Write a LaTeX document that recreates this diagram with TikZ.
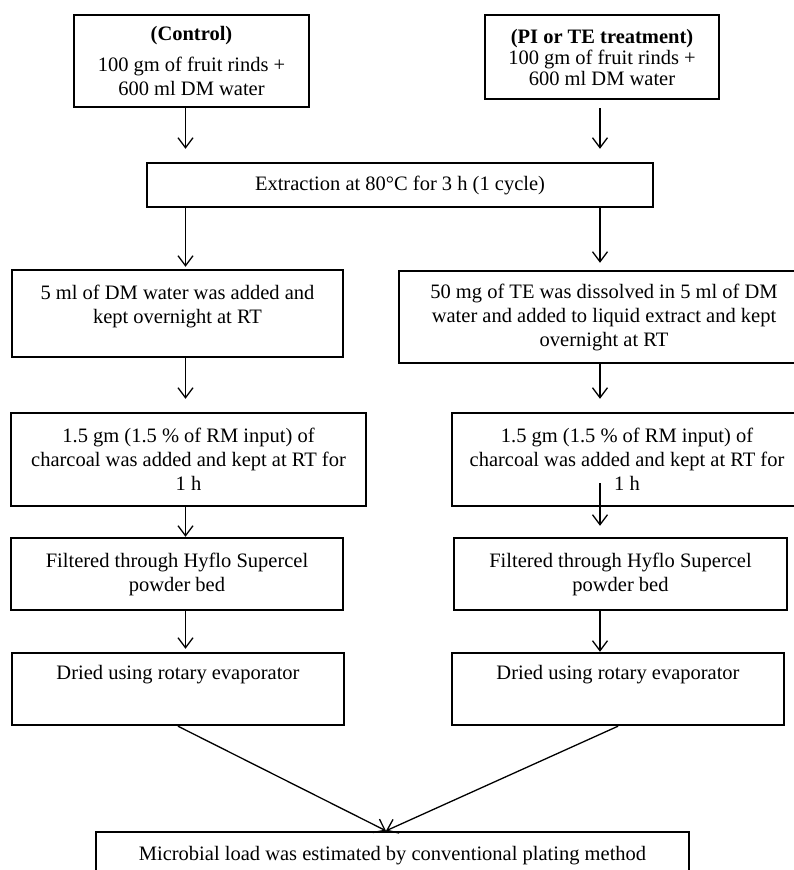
\documentclass[tikz,border=0pt]{standalone}
\usepackage{fontspec}
\setmainfont{Liberation Serif}
\usetikzlibrary{arrows.meta}

\begin{document}
\begin{tikzpicture}[x=1pt,y=-1pt,
  stepbox/.style={draw,line width=2.4pt,align=center,inner sep=0pt,
    font=\fontsize{20.5}{24}\selectfont},
  flow/.style={-{Straight Barb[length=10pt,width=15pt]},line width=1.3pt}]
\useasboundingbox (0,0) rectangle (793,870);
% Columns of the arrows
\coordinate (colL) at (185.5,0);
\coordinate (colR) at (600,0);
% Starting material
\node[stepbox,minimum width=235,minimum height=92] (ctrl) at (191.5,61)
  {\textbf{(Control)}\\[7pt]100 gm of fruit rinds +\\600 ml DM water};
\node[stepbox,minimum width=234,minimum height=84] (pite) at (602,57)
  {\textbf{(PI or TE treatment)}\\[-3pt]100 gm of fruit rinds +\\[-3pt]600 ml DM water};
% Extraction
\node[stepbox,minimum width=506,minimum height=44] (extr) at (400,185)
  {Extraction at 80°C for 3 h (1 cycle)};
% Left branch
\node[stepbox,minimum width=331,minimum height=87,text depth=19pt] (dmL) at (177.5,313.5)
  {5 ml of DM water was added and\\kept overnight at RT};
\node[stepbox,minimum width=355,minimum height=93] (charL) at (188.5,459.5)
  {1.5 gm (1.5 \% of RM input) of\\charcoal was added and kept at RT for\\1 h};
\node[stepbox,minimum width=332,minimum height=72] (filtL) at (177,574)
  {Filtered through Hyflo Supercel\\powder bed};
\node[stepbox,minimum width=332,minimum height=72,text depth=34pt] (dryL) at (178,689)
  {Dried using rotary evaporator};
% Right branch
\node[stepbox,minimum width=410,minimum height=92] (teR) at (604,317)
  {50 mg of TE was dissolved in 5 ml of DM\\water and added to liquid extract and kept\\overnight at RT};
\node[stepbox,minimum width=350,minimum height=93] (charR) at (627,459.5)
  {1.5 gm (1.5 \% of RM input) of\\charcoal was added and kept at RT for\\1 h};
\node[stepbox,minimum width=333,minimum height=72] (filtR) at (620.5,574)
  {Filtered through Hyflo Supercel\\powder bed};
\node[stepbox,minimum width=332,minimum height=72,text depth=34pt] (dryR) at (618,689)
  {Dried using rotary evaporator};
% Final step
\node[stepbox,minimum width=593,minimum height=48] (plate) at (392.5,856)
  {Microbial load was estimated by conventional plating method};
\coordinate (meet) at ([xshift=-6.5pt]plate.north);
% Arrows
\draw[flow,shorten >=13pt] (ctrl.south -| colL) -- (extr.north -| colL);
\draw[flow,shorten <=8pt,shorten >=13pt] (pite.south -| colR) -- (extr.north -| colR);
\draw[flow,shorten >=2pt] (extr.south -| colL) -- (dmL.north -| colL);
\draw[flow,shorten >=7pt] (extr.south -| colR) -- (teR.north -| colR);
\draw[flow,shorten >=13pt] (dmL.south -| colL) -- (charL.north -| colL);
\draw[flow,shorten >=13pt] (teR.south -| colR) -- (charR.north -| colR);
\draw[flow] (charL.south -| colL) -- (filtL.north -| colL);
\draw[flow,shorten <=-24pt,shorten >=11pt] (charR.south -| colR) -- (filtR.north -| colR);
\draw[flow,shorten >=3pt] (filtL.south -| colL) -- (dryL.north -| colL);
\draw[flow] (filtR.south -| colR) -- (dryR.north -| colR);
\draw[flow] (dryL.south) -- (meet);
\draw[flow] (dryR.south) -- (meet);
\end{tikzpicture}
\end{document}
